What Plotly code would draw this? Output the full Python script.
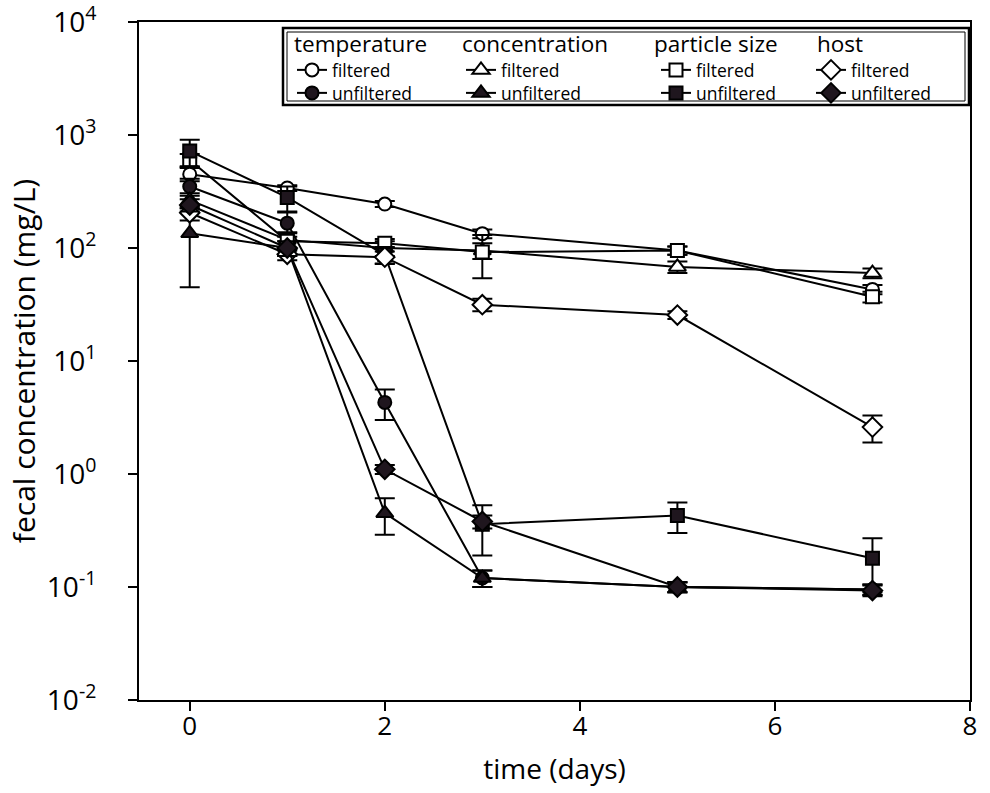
import plotly.graph_objects as go

days = [0, 1, 2, 3, 5, 7]

temp_filtered = [450, 340, 245, 134, 95, 43]
temp_filtered_err = [60, 20, 15, 12, 8, 4]
temp_unfiltered = [350, 166, 4.3, 0.12, 0.10, 0.095]
temp_unfiltered_err = [60, 40, 1.3, 0.02, 0.01, 0.01]

conc_filtered = [265, 118, 100, 95, 68, 60]
conc_filtered_err = [40, 20, 15, 15, 8, 6]
conc_unfiltered = [135, 100, 0.45, 0.12, 0.10, 0.095]
conc_unfiltered_err = [90, 15, 0.16, 0.02, 0.01, 0.01]

ps_filtered = [600, 115, 110, 92, 95, 37]
ps_filtered_err = [80, 20, 10, 38, 8, 4]
ps_unfiltered = [720, 280, 87, 0.36, 0.43, 0.18]
ps_unfiltered_err = [190, 70, 15, 0.17, 0.13, 0.09]

host_filtered = [205, 88, 83, 31.5, 25.5, 2.6]
host_filtered_err = [30, 10, 10, 4, 2, 0.7]
host_unfiltered = [240, 100, 1.1, 0.38, 0.10, 0.093]
host_unfiltered_err = [30, 15, 0.1, 0.05, 0.01, 0.01]

ytick_vals = [1e-2, 1e-1, 1e0, 1e1, 1e2, 1e3, 1e4]
ytick_text = ["10<sup>-2</sup>", "10<sup>-1</sup>", "10<sup>0</sup>", "10<sup>1</sup>",
              "10<sup>2</sup>", "10<sup>3</sup>", "10<sup>4</sup>"]
xtick_vals = [0, 2, 4, 6, 8]

group_titles = ["temperature", "concentration", "particle size", "host"]

FONT = "Open Sans"
DARK = "#1f161e"

# (values, errors, symbol, name, group index, row: 0 filtered / 1 unfiltered, size)
series = [
    (temp_filtered, temp_filtered_err, "circle-open", "filtered", 0, 0, 13),
    (temp_unfiltered, temp_unfiltered_err, "circle", "unfiltered", 0, 1, 13),
    (conc_filtered, conc_filtered_err, "triangle-up-open", "filtered", 1, 0, 15),
    (conc_unfiltered, conc_unfiltered_err, "triangle-up", "unfiltered", 1, 1, 15),
    (ps_filtered, ps_filtered_err, "square-open", "filtered", 2, 0, 13),
    (ps_unfiltered, ps_unfiltered_err, "square", "unfiltered", 2, 1, 13),
    (host_filtered, host_filtered_err, "diamond-open", "filtered", 3, 0, 15),
    (host_unfiltered, host_unfiltered_err, "diamond", "unfiltered", 3, 1, 15),
]

# plot area in pixels
L, R, T, B = 139, 20, 22, 93
W, H = 990, 793
pw, ph = W - L - R, H - T - B


def px(xp):
    return (xp - L) / pw


def py(yp):
    return (H - B - yp) / ph


header_x = [292, 460, 652, 815]
legend_x = [292, 461, 656, 811]
row_y = [70, 93]

fig = go.Figure()
legends = {}
for vals, errs, sym, name, g, row, size in series:
    key = "legend" if (g == 0 and row == 0) else "legend%d" % (g * 2 + row + 1)
    is_open = sym.endswith("open")
    base = sym.replace("-open", "")
    fig.add_trace(go.Scatter(
        x=days, y=vals, name=name, legend=key,
        mode="lines+markers",
        line=dict(color="black", width=2),
        marker=dict(symbol=base, size=size,
                    color="white" if is_open else DARK,
                    line=dict(color="black", width=2)),
        error_y=dict(type="data", array=errs, visible=True,
                     color="black", thickness=2, width=10),
    ))
    legends[key] = dict(
        bgcolor="rgba(0,0,0,0)", borderwidth=0,
        xanchor="left", yanchor="middle",
        x=px(legend_x[g]), y=py(row_y[row]),
        font=dict(family=FONT, size=17.5, color="black"),
        itemwidth=30,
    )

annotations = [
    dict(text=t, xref="paper", yref="paper", x=px(hx), y=py(43),
         xanchor="left", yanchor="middle", showarrow=False,
         font=dict(family=FONT, size=22.5, color="black"))
    for t, hx in zip(group_titles, header_x)
]

fig.update_layout(
    width=W, height=H,
    margin=dict(l=L, r=R, t=T, b=B, pad=0, autoexpand=False),
    paper_bgcolor="white", plot_bgcolor="white",
    font=dict(family=FONT, size=22, color="black"),
    showlegend=True,
    annotations=annotations,
    shapes=[
        dict(type="rect", xref="paper", yref="paper",
             x0=px(283), x1=px(969), y0=py(105), y1=py(28),
             line=dict(color="black", width=2.5), fillcolor="white", layer="below"),
        dict(type="rect", xref="paper", yref="paper",
             x0=px(287), x1=px(965), y0=py(101), y1=py(32),
             line=dict(color="black", width=1), layer="below"),
    ],
    **legends,
)

fig.update_xaxes(
    range=[-0.52, 8.0], tickvals=xtick_vals,
    ticks="outside", ticklen=9, tickwidth=2, tickcolor="black",
    showline=True, linecolor="black", linewidth=2, mirror=True,
    showgrid=False, zeroline=False, automargin=False,
    ticklabelstandoff=-7, ticklabeloverflow="allow",
    tickfont=dict(family=FONT, size=26),
    title=dict(text="time (days)", font=dict(family=FONT, size=28), standoff=17),
)
fig.update_yaxes(
    type="log", range=[-2, 4], tickvals=ytick_vals, ticktext=ytick_text,
    ticks="outside", ticklen=9, tickwidth=2, tickcolor="black",
    showline=True, linecolor="black", linewidth=2, mirror=True,
    showgrid=False, zeroline=False, automargin=False,
    ticklabelstandoff=26, ticklabeloverflow="allow",
    tickfont=dict(family=FONT, size=28),
    title=dict(text="fecal concentration (mg/L)", font=dict(family=FONT, size=30), standoff=2),
)

fig.write_html("out.html")
